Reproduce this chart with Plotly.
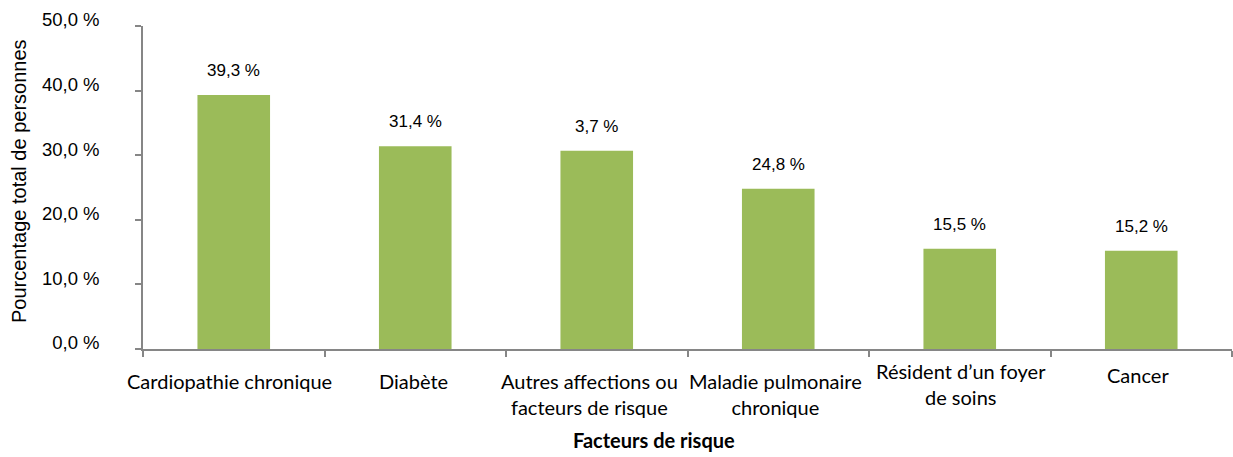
import plotly.graph_objects as go

categories = ["Cardiopathie chronique", "Diabète", "Autres affections ou facteurs de risque",
              "Maladie pulmonaire chronique", "Résident d\u2019un foyer de soins", "Cancer"]
cat_labels = ["Cardiopathie chronique", "Diabète", "Autres affections ou<br>facteurs de risque",
              "Maladie pulmonaire<br>chronique", "Résident d\u2019un foyer<br>de soins", "Cancer"]
values = [39.3, 31.4, 30.7, 24.8, 15.5, 15.2]
value_labels = ["39,3 %", "31,4 %", "3,7 %", "24,8 %", "15,5 %", "15,2 %"]
y_ticks = [0, 10, 20, 30, 40, 50]
y_tick_labels = ["0,0 %", "10,0 %", "20,0 %", "30,0 %", "40,0 %", "50,0 %"]
label_yshift = [-18, -18, -18, -18, -8, -12]
label_xshift = [-4, -2, -7, -3, 1, -3]

GREEN = "#9BBB59"
AXIS = "#868686"
CAL = "Lato, 'Open Sans', sans-serif"
ARIAL = "'Liberation Sans', Arial, sans-serif"

fig = go.Figure()
fig.add_trace(go.Bar(
    x=categories, y=values, marker=dict(color=GREEN, line=dict(width=0)),
    hoverinfo="skip",
))

for c, v, t in zip(categories, values, value_labels):
    fig.add_annotation(x=c, y=v, xref="x", yref="y", text=t, showarrow=False,
                       yanchor="bottom", yshift=13,
                       font=dict(family=ARIAL, size=17, color="#000000"))

for c, lab, ys, xs in zip(categories, cat_labels, label_yshift, label_xshift):
    fig.add_annotation(x=c, y=0, xref="x", yref="y", text=lab, showarrow=False,
                       xanchor="center", yanchor="top", yshift=ys, xshift=xs,
                       font=dict(family=CAL, size=20, color="#000000"))

fig.add_annotation(x=(654 - 143) / 1089, y=-(440 - 349) / 323, xref="paper", yref="paper",
                   xanchor="center", yanchor="middle",
                   text="<b>Facteurs de risque</b>", showarrow=False,
                   font=dict(family=CAL, size=20, color="#000000"))

fig.add_annotation(x=(19 - 143) / 1089, y=(349 - 181) / 323, xref="paper", yref="paper",
                   xanchor="center", yanchor="middle",
                   text="Pourcentage total de personnes", showarrow=False, textangle=-90,
                   font=dict(family=ARIAL, size=20, color="#000000"))

fig.update_layout(
    width=1233, height=457,
    margin=dict(l=143, r=1, t=26, b=108),
    plot_bgcolor="white", paper_bgcolor="white",
    bargap=0.6, showlegend=False,
    xaxis=dict(type="category", range=[-0.5, len(categories) - 0.5], autorange=False,
               showticklabels=False, showline=True, linecolor=AXIS, linewidth=1.5,
               ticks="outside", tickson="boundaries", ticklen=6, tickcolor=AXIS, tickwidth=1.5,
               showgrid=False, zeroline=False, automargin=False),
    yaxis=dict(range=[0, 50], tickvals=y_ticks, ticktext=y_tick_labels, showline=True,
               linecolor=AXIS, linewidth=1.5, ticks="outside", ticklen=6, tickcolor=AXIS, tickwidth=1.5,
               showgrid=False, zeroline=False, ticklabelstandoff=32, ticklabelshift=-6,
               automargin=False,
               tickfont=dict(family=ARIAL, size=18.5, color="#000000")),
)
fig.write_html("out.html", post_script="document.body.style.margin='0';",
               config={"displayModeBar": False})
